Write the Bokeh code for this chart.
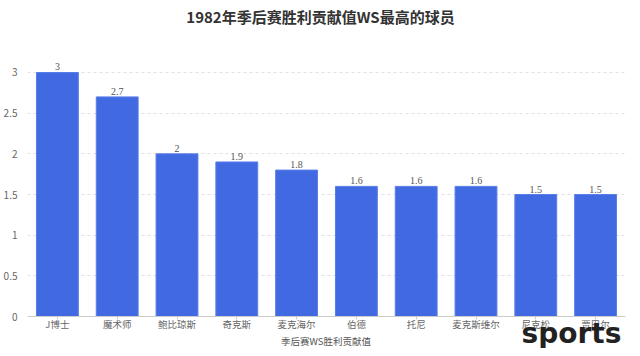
from bokeh.plotting import figure
from bokeh.models import (ColumnDataSource, LabelSet, Label, Legend, LegendItem,
                          FixedTicker, Range1d)
from bokeh.embed import file_html
from bokeh.resources import INLINE

title_text = "1982年季后赛胜利贡献值WS最高的球员"
players = ["J博士", "魔术师", "鲍比琼斯", "奇克斯", "麦克海尔", "伯德", "托尼", "麦克斯维尔", "尼克松", "贾巴尔"]
ws_values = [3, 2.7, 2, 1.9, 1.8, 1.6, 1.6, 1.6, 1.5, 1.5]
series_name = "季后赛WS胜利贡献值"
y_ticks = [0, 0.5, 1, 1.5, 2, 2.5, 3]
watermark = "sports"

FONT = "Noto Sans CJK SC"
BAR = "#4169E1"

src = ColumnDataSource(dict(x=players, y=ws_values, lab=["%g" % v for v in ws_values]))

p = figure(x_range=players, y_range=Range1d(-0.393, 3.885), width=632, height=348,
           output_backend="svg", toolbar_location=None,
           min_border_left=20, min_border_right=7, min_border_top=0, min_border_bottom=0)
p.outline_line_color = None
p.background_fill_color = "white"
p.border_fill_color = "white"

bars = p.vbar(x="x", top="y", width=0.7, source=src, fill_color=BAR, line_color="#5a7ee8")

labels = LabelSet(x="x", y="y", text="lab", source=src, text_align="center",
                  text_baseline="bottom", y_offset=2, text_font_size="10px",
                  text_color="#555555", text_font=FONT)
p.add_layout(labels)

# axes
p.yaxis.ticker = FixedTicker(ticks=y_ticks)
p.yaxis.major_label_overrides = {t: "%g" % t for t in y_ticks}
p.yaxis.axis_line_color = None
p.yaxis.major_tick_line_color = None
p.yaxis.minor_tick_line_color = None
p.yaxis.major_label_text_font = FONT
p.yaxis.major_label_text_font_size = "10px"
p.yaxis.major_label_text_color = "#666666"
p.yaxis.major_label_standoff = 4

p.xaxis.fixed_location = 0
p.xaxis.axis_line_color = "#cccccc"
p.xaxis.major_tick_line_color = "#cccccc"
p.xaxis.major_tick_in = 0
p.xaxis.major_tick_out = 3
p.xaxis.major_label_text_font = FONT
p.xaxis.major_label_text_font_size = "9.5px"
p.xaxis.major_label_text_color = "#666666"
p.xaxis.major_label_standoff = -3

p.xgrid.grid_line_color = None
p.ygrid.grid_line_color = "#e0e0e0"
p.ygrid.grid_line_dash = "3 3"

# legend with circle marker
dot = p.scatter(x=[], y=[], marker="circle", size=8, fill_color=BAR, line_color=BAR)
legend = Legend(items=[LegendItem(label=series_name, renderers=[dot])],
                orientation="horizontal", location=(240, 0),
                label_text_font=FONT, label_text_font_size="9.5px",
                label_text_color="#555555", border_line_color=None,
                background_fill_alpha=0, padding=0, margin=0, spacing=0,
                glyph_width=10, glyph_height=12, label_height=12, label_standoff=4)
p.add_layout(legend, "center")

# title
title = Label(x=293, y=332, x_units="screen", y_units="screen", text=title_text,
              text_align="center", text_baseline="middle", text_font=FONT,
              text_font_size="15px", text_font_style="bold", text_color="#333333")
p.add_layout(title)

# watermark
wm = Label(x=494, y=15, x_units="screen", y_units="screen", text=watermark,
           text_baseline="alphabetic",
           text_font="DejaVu Sans", text_font_style="bold", text_font_size="28px",
           text_color="#222222")
p.add_layout(wm)

open("out.html", "w").write(file_html(p, INLINE))
